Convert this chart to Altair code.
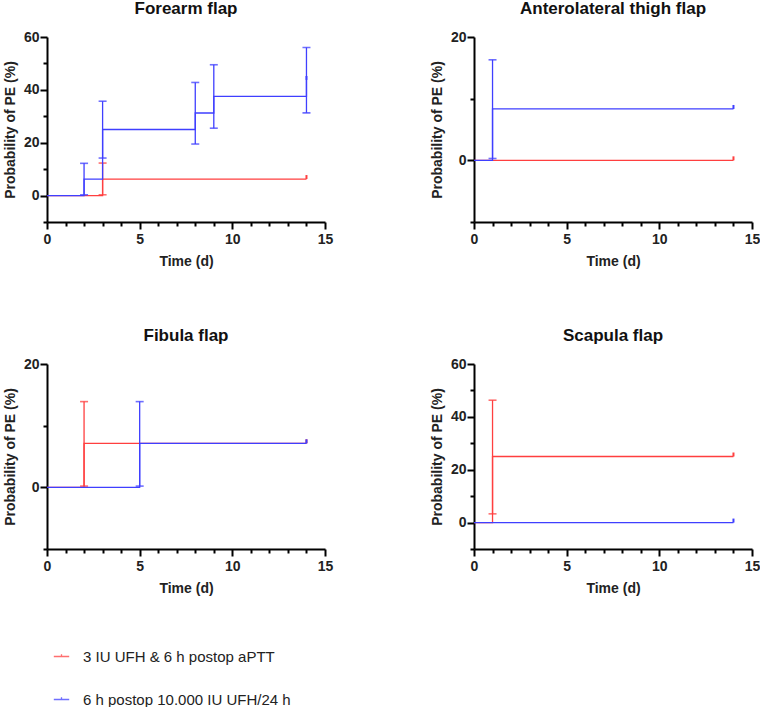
import altair as alt
import pandas as pd

FONT = "Liberation Sans"

RED_LABEL = "3 IU UFH & 6 h postop aPTT"
BLUE_LABEL = "6 h postop 10.000 IU UFH/24 h"
GROUPS = [RED_LABEL, BLUE_LABEL]
COLORS = ["#ff3f3f", "#3f3fff"]

FOLLOW_UP_END = 14

panel_titles = ["Forearm flap", "Anterolateral thigh flap", "Fibula flap", "Scapula flap"]
panel_y_max = [60, 20, 20, 60]

# Event days, cumulative probability of PE (%) and confidence bounds per group
forearm_red_days = [3]
forearm_red_prob = [6.25]
forearm_red_low = [0.3]
forearm_red_high = [12.3]
forearm_blue_days = [2, 3, 8, 9, 14]
forearm_blue_prob = [6.25, 25.0, 31.25, 37.5, 43.75]
forearm_blue_low = [0.3, 14.2, 19.5, 25.5, 31.3]
forearm_blue_high = [12.2, 35.7, 42.8, 49.5, 56.0]

alt_red_days = []
alt_red_prob = []
alt_red_low = []
alt_red_high = []
alt_blue_days = [1]
alt_blue_prob = [8.33]
alt_blue_low = [0.3]
alt_blue_high = [16.3]

fibula_red_days = [2]
fibula_red_prob = [7.14]
fibula_red_low = [0.2]
fibula_red_high = [13.9]
fibula_blue_days = [5]
fibula_blue_prob = [7.14]
fibula_blue_low = [0.2]
fibula_blue_high = [13.9]

scapula_red_days = [1]
scapula_red_prob = [25.0]
scapula_red_low = [3.3]
scapula_red_high = [46.3]
scapula_blue_days = []
scapula_blue_prob = []
scapula_blue_low = []
scapula_blue_high = []

panel_series = [
    ((forearm_red_days, forearm_red_prob, forearm_red_low, forearm_red_high),
     (forearm_blue_days, forearm_blue_prob, forearm_blue_low, forearm_blue_high)),
    ((alt_red_days, alt_red_prob, alt_red_low, alt_red_high),
     (alt_blue_days, alt_blue_prob, alt_blue_low, alt_blue_high)),
    ((fibula_red_days, fibula_red_prob, fibula_red_low, fibula_red_high),
     (fibula_blue_days, fibula_blue_prob, fibula_blue_low, fibula_blue_high)),
    ((scapula_red_days, scapula_red_prob, scapula_red_low, scapula_red_high),
     (scapula_blue_days, scapula_blue_prob, scapula_blue_low, scapula_blue_high)),
]

PANEL_W = 278
PANEL_H = 185

color = alt.Color(
    "group:N",
    scale=alt.Scale(domain=GROUPS, range=COLORS),
    legend=alt.Legend(
        title=None,
        orient="none",
        legendX=6,
        legendY=611,
        direction="vertical",
        symbolType="M-1,0L1,0M0,0L0,-0.3",
        symbolSize=237,
        symbolStrokeWidth=1.3,
        labelFont=FONT,
        labelFontSize=15,
        labelFontWeight="normal",
        labelColor="#222222",
        labelOffset=13,
        labelLimit=0,
        rowPadding=26,
    ),
)


def x_enc():
    return alt.X(
        "day:Q",
        scale=alt.Scale(domain=[0, 15], nice=False, zero=False),
        axis=alt.Axis(
            title="Time (d)",
            values=list(range(0, 16)),
            labelExpr="datum.value % 5 === 0 ? datum.label : ''",
            tickSize={"condition": {"test": "datum.value % 5 === 0", "value": 7}, "value": 4},
            labelOverlap=False,
            labelFlush=False,
            labelPadding=3,
            titlePadding=8,
        ),
    )


def y_enc(field, ymax):
    return alt.Y(
        f"{field}:Q",
        scale=alt.Scale(domain=[-10, ymax], nice=False, zero=False),
        axis=alt.Axis(
            title="Probability of PE (%)",
            values=list(range(-10, ymax + 1, 10)),
            labelExpr="datum.value % 20 === 0 ? datum.label : ''",
            tickSize={"condition": {"test": "datum.value % 20 === 0", "value": 7}, "value": 4},
            labelOverlap=False,
            labelFlush=False,
            labelPadding=1,
            titlePadding=6,
        ),
    )


def group_layers(group, series, ymax):
    days, prob, low, high = series
    # step curve: start at 0, jump at each event day, run to end of follow-up
    cx, cy = [0], [0.0]
    for d, p in zip(days, prob):
        cx.append(d)
        cy.append(p)
    if cx[-1] != FOLLOW_UP_END:
        cx.append(FOLLOW_UP_END)
        cy.append(cy[-1])
    curve = pd.DataFrame({"day": cx, "prob": cy, "group": group})
    bars = pd.DataFrame({"day": days, "low": low, "high": high, "group": group})
    caps = pd.DataFrame({"day": days + days, "prob": low + high, "group": group})
    end = pd.DataFrame({"day": [FOLLOW_UP_END], "prob": [cy[-1]], "group": group})

    layers = [
        alt.Chart(curve).mark_line(interpolate="step-after", strokeWidth=1.3).encode(
            x=x_enc(), y=y_enc("prob", ymax), color=color
        )
    ]
    if days:
        layers.append(
            alt.Chart(bars).mark_rule(strokeWidth=1.3).encode(
                x=x_enc(), y=y_enc("low", ymax), y2="high:Q", color=color
            )
        )
        layers.append(
            alt.Chart(caps).mark_tick(orient="horizontal", size=8, thickness=1.6, opacity=0.75).encode(
                x=x_enc(), y=y_enc("prob", ymax), color=color
            )
        )
    layers.append(
        alt.Chart(end).mark_tick(orient="vertical", size=4, thickness=2, yOffset=-2, opacity=1).encode(
            x=x_enc(), y=y_enc("prob", ymax), color=color
        )
    )
    return layers


def panel(i):
    red, blue = panel_series[i]
    ymax = panel_y_max[i]
    layers = group_layers(RED_LABEL, red, ymax) + group_layers(BLUE_LABEL, blue, ymax)
    return alt.layer(*layers).properties(
        width=PANEL_W,
        height=PANEL_H,
        title=alt.TitleParams(panel_titles[i], anchor="middle"),
    )


top = alt.hconcat(panel(0), panel(1), spacing=97)
bottom = alt.hconcat(panel(2), panel(3), spacing=97)

chart = (
    alt.vconcat(top, bottom, spacing=59)
    .properties(padding={"left": 3, "top": 0, "right": 0, "bottom": 0}, background="white")
    .configure_view(stroke=None)
    .configure_axis(
        grid=False,
        domainColor="black",
        domainWidth=2,
        tickColor="black",
        tickWidth=2,
        labelFont=FONT,
        labelFontSize=14,
        labelFontWeight="bold",
        labelColor="#222222",
        titleFont=FONT,
        titleFontSize=14,
        titleFontWeight="bold",
        titleColor="#222222",
    )
    .configure_title(font=FONT, fontSize=17, fontWeight="bold", color="#111111", offset=12)
)

chart.save("out.html", embed_options={"renderer": "svg", "actions": False})
